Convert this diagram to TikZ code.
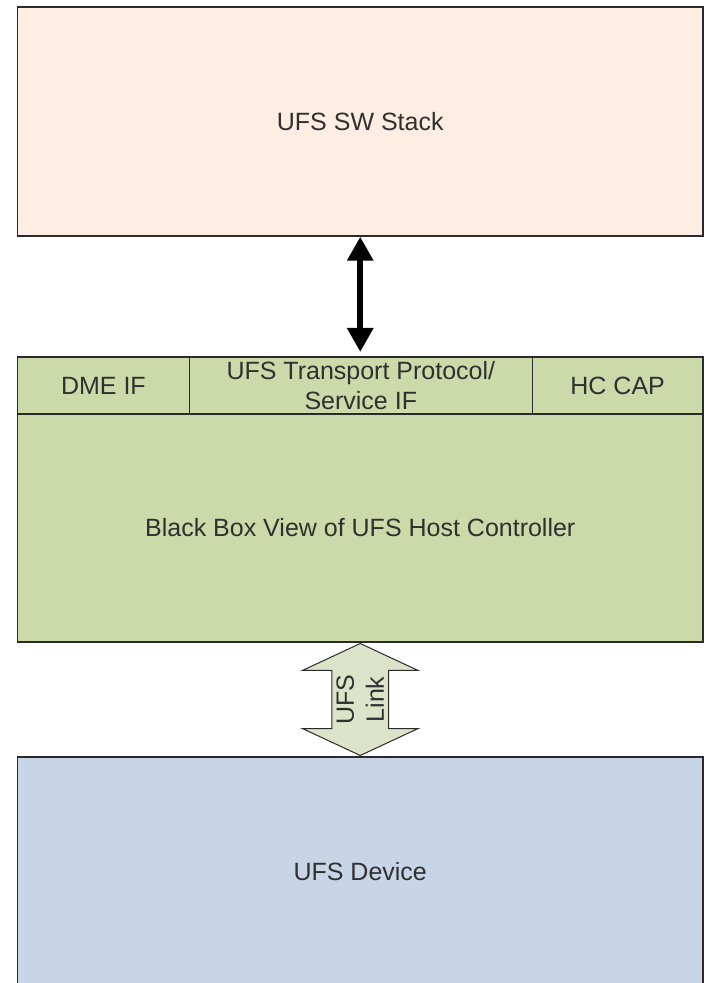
\documentclass[tikz,border=0pt]{standalone}
\usepackage{fontspec}
\setmainfont{Liberation Sans}
\usetikzlibrary{arrows.meta,positioning,calc,shapes.arrows}
\definecolor{StackPeach}{HTML}{FDEDE2}
\definecolor{HostGreen}{HTML}{CCDAA9}
\definecolor{LinkGreen}{HTML}{DCE3C8}
\definecolor{DevBlue}{HTML}{C8D5E6}
\definecolor{EdgeGray}{HTML}{2A2A2A}
\definecolor{TextGray}{HTML}{303030}

\begin{document}
\begin{tikzpicture}[x=1pt,y=1pt, every node/.style={font=\fontsize{25}{30}\selectfont,text=TextGray},
 box/.style={draw=EdgeGray,line width=1.4pt,outer sep=0pt,inner sep=0pt,align=center,minimum width=685.5pt},
 cell/.style={box,fill=HostGreen,minimum height=57pt},
 arr/.style={{Triangle[length=24pt,width=25pt]}-{Triangle[length=24pt,width=25pt]},line width=6pt,black}]
\useasboundingbox (0,0) rectangle (705,983);
\clip (0,0) rectangle (705,983);
\node[box,fill=StackPeach,minimum height=229pt] (sw) at (360.25,861.5) {UFS SW Stack};
\node[cell,minimum width=171.8pt,below=121pt of sw.south west,anchor=north west] (dme) {DME IF};
\node[cell,minimum width=343pt,right=0pt of dme] (tp) {UFS Transport Protocol/\\Service IF};
\node[cell,minimum width=170.7pt,right=0pt of tp] (cap) {HC CAP};
\node[box,fill=HostGreen,minimum height=228pt,below=0pt of dme.south west,anchor=north west] (hc) {Black Box View of UFS Host Controller};
\node[box,fill=DevBlue,minimum height=230pt,below=115pt of hc] (dev) {UFS Device};
\draw[arr] ([yshift=-0.7pt]sw.south) -- ([yshift=5pt]sw.south |- tp.north);
\node[double arrow,draw=EdgeGray,fill=LinkGreen,line width=1pt,rotate=90,
 minimum height=112pt,minimum width=115pt,double arrow head extend=29pt,double arrow tip angle=130,
 inner xsep=0pt,inner ysep=4pt,align=center] (link) at ($(hc.south)!0.5!(dev.north)$) {UFS\\Link};
\end{tikzpicture}
\end{document}
